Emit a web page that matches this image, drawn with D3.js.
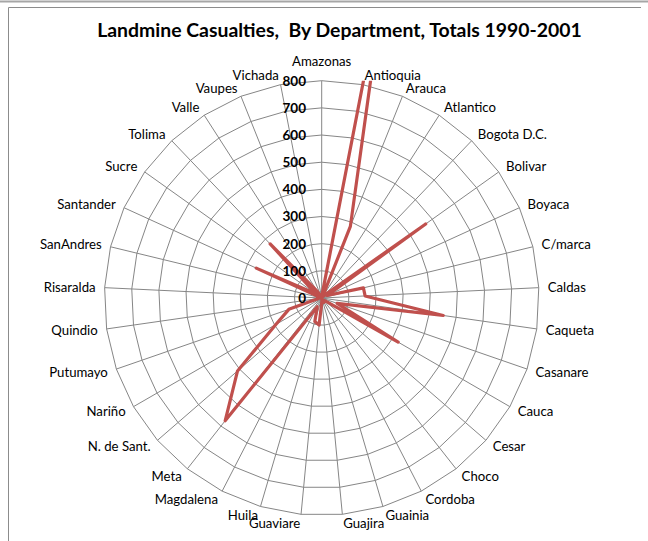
<!DOCTYPE html>
<html>
<head>
<meta charset="utf-8">
<script src="https://cdn.jsdelivr.net/npm/d3@7"></script>
<style>
  html, body { margin: 0; padding: 0; background: #fff; }
  svg { display: block; }
</style>
</head>
<body>
<svg id="chart" width="648" height="541"></svg>
<script>
// ---- Data ----
const categories = ["Amazonas","Antioquia","Arauca","Atlantico","Bogota D.C.","Bolivar","Boyaca","C/marca","Caldas","Caqueta","Casanare","Cauca","Cesar","Choco","Cordoba","Guainia","Guajira","Guaviare","Huila","Magdalena","Meta","N. de Sant.","Nariño","Putumayo","Quindio","Risaralda","SanAndres","Santander","Sucre","Tolima","Valle","Vaupes","Vichada"];
const casualties = [5,1300,284,5,12,470,22,158,160,452,60,325,15,10,18,3,10,100,90,36,575,410,195,128,12,15,0,265,25,275,28,3,6];
const tickValues = [0,100,200,300,400,500,600,700,800];
const title = "Landmine Casualties,  By Department, Totals 1990-2001";

// ---- Layout ----
const W = 648, H = 541;
const cx = 321.7, cy = 298, R = 217.3;
const svg = d3.select("#chart");

// frame
svg.append("line").attr("x1",0).attr("x2",W).attr("y1",1.5).attr("y2",1.5)
  .attr("stroke","#a6a6a6").attr("stroke-width",2);
svg.append("path").attr("d",`M8.5,${H+5} V7.5 H641`)
  .attr("fill","none").attr("stroke","#8c8c8c").attr("stroke-width",1);

const n = categories.length;
const angle = d3.scaleLinear().domain([0,n]).range([0,2*Math.PI]);
const r = d3.scaleLinear().domain([0,800]).range([0,R]);
const pt = (i, v) => [cx + r(v)*Math.sin(angle(i)), cy - r(v)*Math.cos(angle(i))];

const grid = svg.append("g").attr("stroke","#868686").attr("stroke-width",1).attr("fill","none");
// rings
tickValues.slice(1).forEach(t => {
  const pts = d3.range(n).map(i => pt(i,t));
  grid.append("path").attr("d", d3.line()(pts) + "Z");
});
// spokes
d3.range(n).forEach(i => {
  const p = pt(i, 800);
  grid.append("line").attr("x1",cx).attr("y1",cy).attr("x2",p[0]).attr("y2",p[1]);
});

// clip for the series (plot area)
svg.append("clipPath").attr("id","plotclip").append("rect")
  .attr("x", cx - R - 2).attr("y", cy - R).attr("width", 2*R + 4).attr("height", 2*R + 4);

const radarLine = d3.lineRadial()
  .angle((d,i) => angle(i))
  .radius(d => r(d))
  .curve(d3.curveLinearClosed);

svg.append("g").attr("clip-path","url(#plotclip)")
  .append("path")
  .attr("transform",`translate(${cx},${cy})`)
  .attr("d", radarLine(casualties))
  .attr("fill","none")
  .attr("stroke","#C0504D")
  .attr("stroke-width",3.2)
  .attr("stroke-linejoin","round");

// tick labels
svg.append("g").selectAll("text").data(tickValues).join("text")
  .attr("x", 306)
  .attr("y", d => cy - r(d))
  .attr("dy","0.36em")
  .attr("text-anchor","end")
  .attr("font-family","Lato, 'Open Sans', sans-serif")
  .attr("font-weight","bold")
  .attr("font-size",13.5)
  .attr("fill","#000")
  .text(d => d);

// category labels
const labelFont = 13.2;
const lg = svg.append("g")
  .attr("font-family","Lato, 'Open Sans', sans-serif")
  .attr("font-size",labelFont)
  .attr("fill","#000");
categories.forEach((c,i) => {
  const a = angle(i);
  const s = Math.sin(a), co = Math.cos(a);
  const rr = R + 9;
  let x = cx + rr*s, y = cy - rr*co;
  let anchor = Math.abs(s) < 0.05 ? "middle" : (s > 0 ? "start" : "end");
  if (i === 0) y -= 10;
  lg.append("text").attr("x",x).attr("y",y).attr("dy","0.35em")
    .attr("text-anchor",anchor).text(c);
});

// title
const tt = svg.append("text")
  .attr("x", 339.5).attr("y", 30).attr("dy","0.35em")
  .attr("text-anchor","middle")
  .attr("font-family","Lato, 'Open Sans', sans-serif")
  .attr("font-weight","bold")
  .attr("font-size",18)
  .attr("fill","#000")
  .style("white-space","pre")
  .text(title);
const tw = tt.node().getComputedTextLength();
tt.attr("font-size", 18 * 485 / tw);
</script>
</body>
</html>
